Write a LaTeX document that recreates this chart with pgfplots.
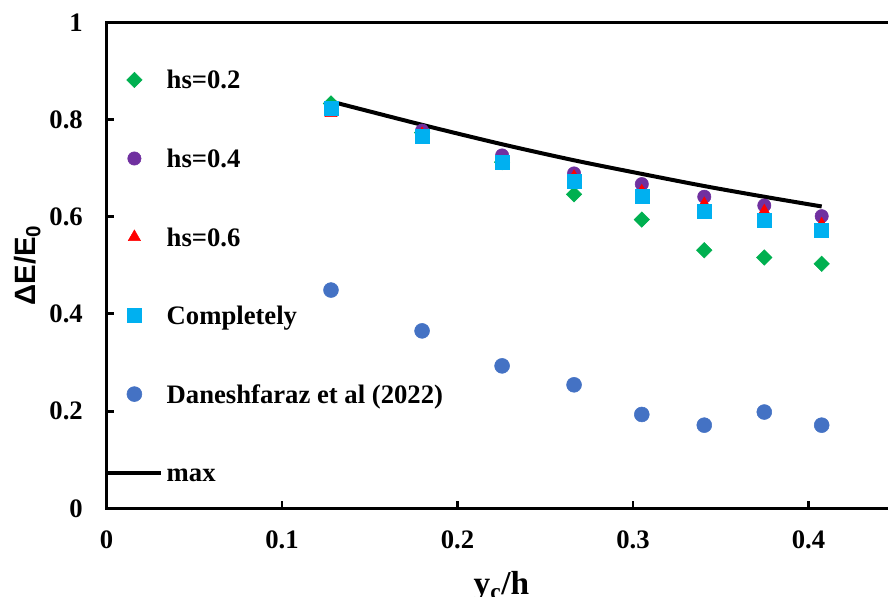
\documentclass[border=0pt]{standalone}
\usepackage{fontspec}
\setmainfont{Liberation Serif}
\setsansfont{Liberation Sans}
\usepackage{pgfplots}
\pgfplotsset{compat=1.18}

\definecolor{hsgreen}{HTML}{00B050}
\definecolor{hspurple}{HTML}{7030A0}
\definecolor{hsred}{HTML}{FF0000}
\definecolor{hscyan}{HTML}{00B0F0}
\definecolor{refblue}{HTML}{4472C4}

\begin{document}
\begin{tikzpicture}
\begin{axis}[
  name=ax,
  at={(0,0)}, anchor=south west,
  scale only axis,
  width=592.3pt, height=364.5pt,
  xmin=0, xmax=0.45, ymin=0, ymax=1,
  xtick={0,0.1,0.2,0.3,0.4},
  ytick={0,0.2,0.4,0.6,0.8,1},
  xtick pos=lower, ytick pos=left,
  axis line style={line width=2.2pt, black},
  tick style={line width=2.2pt, black},
  tick align=inside,
  major tick length=5.5pt,
  /pgf/number format/assume math mode=true,
  ticklabel style={font=\fontsize{20}{24}\selectfont\bfseries, inner sep=0pt},
  yticklabel style={xshift=-17.6pt},
  xticklabel style={yshift=-17pt},
  xlabel={y\textsubscript{c}/h},
  xlabel style={at={(axis description cs:0.5,0)}, anchor=north, inner sep=0pt,
    yshift=-47.5pt, font=\fontsize{25}{30}\selectfont\bfseries},
  ylabel={ΔE/E\textsubscript{0}},
  ylabel style={at={(axis description cs:-0.1001,0.5)}, anchor=center, rotate=0,
    font=\fontsize{22}{26}\selectfont\sffamily\bfseries},
  legend style={
    at={(axis description cs:-0.0006,0.8998)}, anchor=north west,
    draw=none, fill=none, inner sep=0pt, outer sep=0pt,
    row sep=45.4pt, column sep=3pt,
    font=\fontsize{20}{24}\selectfont\bfseries,
    nodes={inner sep=0pt, text height=13.5pt, text depth=0pt},
  },
  legend cell align=left,
  legend image code/.code={%
    \draw[mark repeat=2, mark phase=2, #1]
      plot coordinates {(0pt,0pt) (19.75pt,0pt) (39.5pt,0pt)};},
]

% hs = 0.2
\addplot[only marks, color=hsgreen, mark=square*, mark size=4.1pt,
  mark options={rotate=45}] coordinates {
  (0.1279,0.833) (0.1798,0.773) (0.2254,0.712) (0.2664,0.646)
  (0.3050,0.594) (0.3406,0.531) (0.3748,0.516) (0.4075,0.503)};
\addlegendentry{hs=0.2}

% hs = 0.4
\addplot[only marks, color=hspurple, mark=*, mark size=5pt] coordinates {
  (0.1279,0.822) (0.1798,0.777) (0.2254,0.726) (0.2664,0.689)
  (0.3050,0.667) (0.3406,0.641) (0.3748,0.623) (0.4075,0.601)};
\addlegendentry{hs=0.4}

% hs = 0.6
\addplot[only marks, color=hsred, mark=triangle*, mark size=5.3pt] coordinates {
  (0.1279,0.813) (0.1798,0.770) (0.2254,0.705) (0.2664,0.682)
  (0.3050,0.652) (0.3406,0.626) (0.3748,0.611) (0.4075,0.584)};
\addlegendentry{hs=0.6}

% completely submerged
\addplot[only marks, color=hscyan, mark=square*, mark size=5.25pt] coordinates {
  (0.1279,0.824) (0.1798,0.766) (0.2254,0.7125) (0.2664,0.672)
  (0.3050,0.641) (0.3406,0.612) (0.3748,0.592) (0.4075,0.571)};
\addlegendentry{Completely}

% earlier study
\addplot[only marks, color=refblue, mark=*, mark size=5.6pt] coordinates {
  (0.1279,0.449) (0.1798,0.365) (0.2254,0.293) (0.2664,0.254)
  (0.3050,0.193) (0.3406,0.171) (0.3748,0.198) (0.4075,0.171)};
\addlegendentry{Daneshfaraz et al (2022)}

% envelope of maximum values
\addplot[black, line width=3pt, smooth, no marks] coordinates {
  (0.1279,0.837) (0.1798,0.789) (0.2254,0.749) (0.2664,0.716)
  (0.3050,0.688) (0.3406,0.663) (0.3748,0.641) (0.4075,0.621)};
\addlegendentry{max}

\end{axis}
\pgfresetboundingbox
\path (ax.south west) ++(-79.9pt,-65.8pt) rectangle ++(666pt,447pt);
\end{tikzpicture}
\end{document}
